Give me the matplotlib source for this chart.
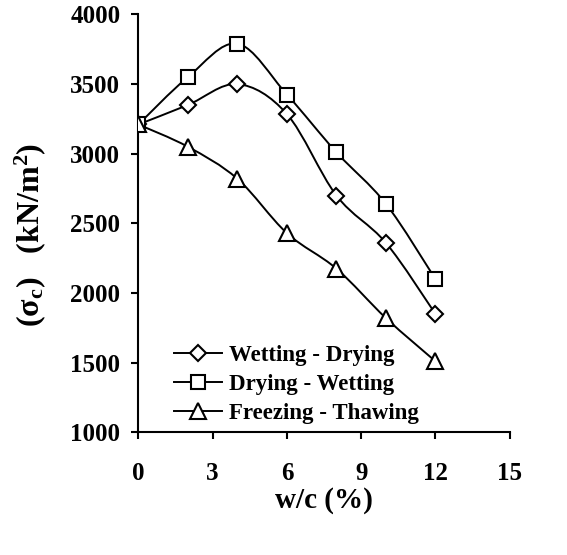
import numpy as np
import matplotlib
matplotlib.use("Agg")
import matplotlib.pyplot as plt
from matplotlib.path import Path
from matplotlib.patches import PathPatch
from matplotlib.lines import Line2D

plt.rcParams['font.family'] = ['Liberation Serif', 'DejaVu Serif']
plt.rcParams['font.weight'] = 'bold'
plt.rcParams['mathtext.fontset'] = 'custom'
plt.rcParams['mathtext.rm'] = 'Liberation Serif:bold'
plt.rcParams['mathtext.it'] = 'Liberation Serif:bold'
plt.rcParams['mathtext.bf'] = 'Liberation Serif:bold'

# data
wc = [0, 2, 4, 6, 8, 10, 12]
wetting_drying = [3210, 3350, 3500, 3285, 2700, 2360, 1850]
drying_wetting = [3210, 3550, 3790, 3425, 3010, 2640, 2100]
freezing_thawing = [3210, 3050, 2820, 2430, 2175, 1820, 1510]

labels = ["Wetting - Drying", "Drying - Wetting", "Freezing - Thawing"]
markers = ["D", "s", "^"]
msizes = [8, 10, 11]
xticks = [0, 3, 6, 9, 12, 15]
yticks = [1000, 1500, 2000, 2500, 3000, 3500, 4000]


def smooth_path(x, y):
    # excel-like smoothed line: cubic bezier through the points
    p = np.column_stack([x, y]).astype(float)
    n = len(p)
    verts = [p[0]]
    codes = [Path.MOVETO]
    for i in range(n - 1):
        p0 = p[i - 1] if i > 0 else p[i]
        p3 = p[i + 2] if i + 2 < n else p[i + 1]
        c1 = p[i] + (p[i + 1] - p0) / 6.0
        c2 = p[i + 1] - (p3 - p[i]) / 6.0
        verts += [c1, c2, p[i + 1]]
        codes += [Path.CURVE4] * 3
    return Path(verts, codes)


fig = plt.figure(figsize=(5.67, 5.55), dpi=100)
ax = fig.add_axes([0.244, 0.221, 0.655, 0.753])

handles = []
for ys, m, ms, lab in zip([wetting_drying, drying_wetting, freezing_thawing],
                          markers, msizes, labels):
    ax.add_patch(PathPatch(smooth_path(wc, ys), fill=False, edgecolor='black',
                           lw=1.4, zorder=2))
    ax.plot(wc, ys, linestyle='none', marker=m, ms=ms, mfc='white',
            mec='black', mew=1.5, zorder=3)
    handles.append(Line2D([], [], color='black', lw=1.4, marker=m, ms=ms,
                          mfc='white', mec='black', mew=1.5))

ax.set_xlim(0, 15)
ax.set_ylim(1000, 4000)
ax.set_xticks(xticks)
ax.set_yticks(yticks)
ax.spines['top'].set_visible(False)
ax.spines['right'].set_visible(False)
ax.spines['left'].set_linewidth(1.5)
ax.spines['bottom'].set_linewidth(1.5)
ax.tick_params(axis='both', direction='out', length=5, width=1.5,
               labelsize=18)
ax.tick_params(axis='x', pad=16)
ax.tick_params(axis='y', pad=8)

ax.set_xlabel("w/c (%)", fontsize=21, fontweight='bold')
ax.xaxis.set_label_coords(0.5, -0.13)
ax.set_ylabel(r"(σ$_\mathbf{c}$)   (kN/m$^\mathbf{2}$)", fontsize=23,
              fontweight='bold')
ax.yaxis.set_label_coords(-0.242, 0.472)

leg = ax.legend(handles, labels, loc='lower left',
                bbox_to_anchor=(0.04, -0.03), frameon=False,
                prop={'family': 'Liberation Serif', 'weight': 'bold', 'size': 16.5},
                handlelength=2.1, handletextpad=0.3, labelspacing=0.35)

fig.savefig("out.png", dpi=100)
